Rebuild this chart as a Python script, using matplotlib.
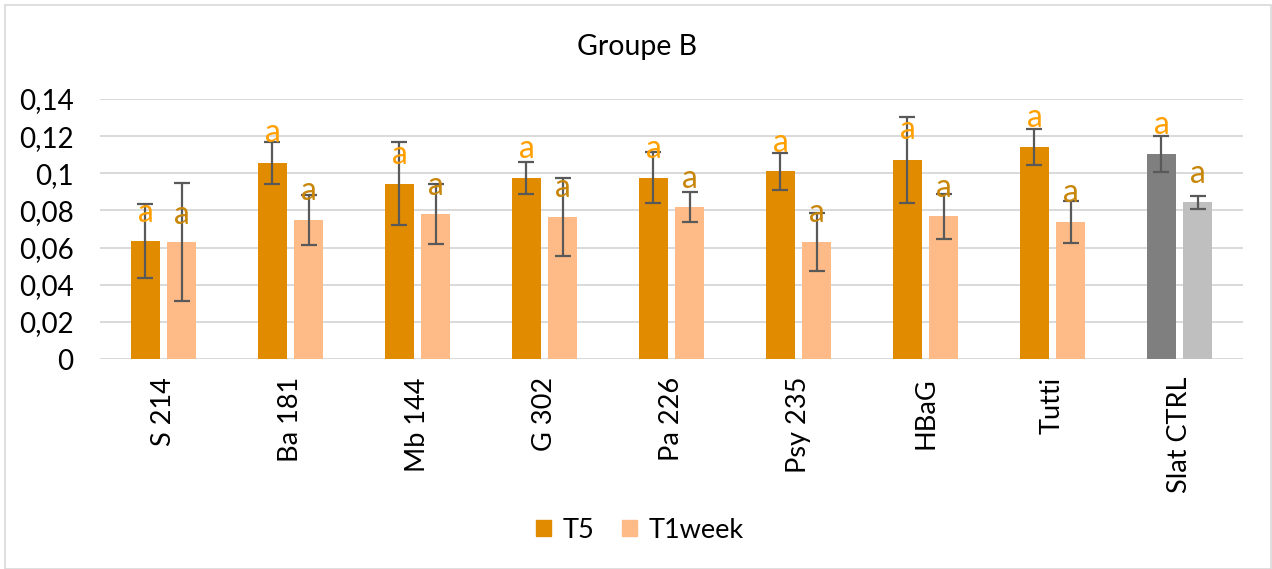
import matplotlib
matplotlib.use("Agg")
import matplotlib.pyplot as plt
from matplotlib.patches import Patch, Rectangle
import numpy as np

plt.rcParams['font.family'] = ['Lato', 'DejaVu Sans']

# data
categories = ["S 214", "Ba 181", "Mb 144", "G 302", "Pa 226", "Psy 235", "HBaG", "Tutti", "Slat CTRL"]
t5 = [0.0634, 0.1055, 0.0944, 0.0977, 0.0975, 0.1010, 0.1072, 0.1143, 0.1104]
t5_err = [0.0200, 0.0115, 0.0222, 0.0086, 0.0137, 0.0099, 0.0232, 0.0098, 0.0099]
t1week = [0.0631, 0.0749, 0.0781, 0.0765, 0.0817, 0.0632, 0.0768, 0.0738, 0.0845]
t1week_err = [0.0316, 0.0134, 0.0161, 0.0210, 0.0081, 0.0156, 0.0122, 0.0114, 0.0035]
t5_letters = ["a"] * 9
t1week_letters = ["a"] * 9
yticks = [0, 0.02, 0.04, 0.06, 0.08, 0.1, 0.12, 0.14]
ytick_labels = ["0", "0,02", "0,04", "0,06", "0,08", "0,1", "0,12", "0,14"]

# where the letters sit (placed by hand in the original)
t5_letter_y = [0.0786, 0.1217, 0.1099, 0.1131, 0.1131, 0.1163, 0.1233, 0.1298, 0.1260]
t1week_letter_y = [0.0775, 0.0905, 0.0932, 0.0921, 0.0970, 0.0786, 0.0921, 0.0894, 0.0996]

c_t5 = "#E08B00"
c_t1 = "#FFBB87"
ctrl_t5 = "#7F7F7F"
ctrl_t1 = "#BFBFBF"

fig = plt.figure(figsize=(12.72, 5.69), dpi=100)
ax = fig.add_axes([100/1272, 1 - 359/569, 1143/1272, 260/569])

# chart border
fig.patches.append(Rectangle((4.5/1272, 0), 1266/1272, 1 - 4.5/569, transform=fig.transFigure,
                             fill=False, edgecolor="#D9D9D9", linewidth=1.2))

x = np.arange(len(categories))
w = 0.224
off = 0.142
cols5 = [c_t5] * (len(categories) - 1) + [ctrl_t5]
cols1 = [c_t1] * (len(categories) - 1) + [ctrl_t1]

ax.bar(x - off, t5, w, color=cols5, zorder=2)
ax.bar(x + off, t1week, w, color=cols1, zorder=2)
ax.errorbar(x - off, t5, yerr=t5_err, fmt="none", ecolor="#595959", elinewidth=1.6,
            capsize=6, capthick=1.6, zorder=3)
ax.errorbar(x + off, t1week, yerr=t1week_err, fmt="none", ecolor="#595959", elinewidth=1.6,
            capsize=6, capthick=1.6, zorder=3)

for i in range(len(categories)):
    ax.text(x[i] - off, t5_letter_y[i], t5_letters[i], color="#FFA000", fontsize=23,
            ha="center", va="center", zorder=4)
    ax.text(x[i] + off, t1week_letter_y[i], t1week_letters[i], color="#C8860A", fontsize=23,
            ha="center", va="center", zorder=4)

ax.set_xlim(-0.5, len(categories) - 0.5)
ax.set_ylim(0, 0.14)
ax.set_yticks(yticks)
ax.set_yticklabels(ytick_labels, fontsize=20)
ax.set_xticks(x)
ax.set_xticklabels(categories, rotation=90, fontsize=19.5)
ax.tick_params(axis="y", length=0, pad=19)
ax.tick_params(axis="x", length=0, pad=13)
ax.grid(axis="y", color="#D9D9D9", linewidth=1.4, zorder=0)
for s in ax.spines.values():
    s.set_visible(False)

fig.text(637/1272, 1 - 47/569, "Groupe B", ha="center", va="center", fontsize=20.5)

handles = [Patch(color=c_t5, label="T5"), Patch(color=c_t1, label="T1week")]
fig.legend(handles=handles, loc="center", bbox_to_anchor=(640/1272, 1 - 530/569), ncol=2,
           frameon=False, fontsize=19.5, handlelength=0.55, handleheight=0.55,
           handletextpad=0.45, columnspacing=1.0)

fig.savefig("out.png", dpi=100)
